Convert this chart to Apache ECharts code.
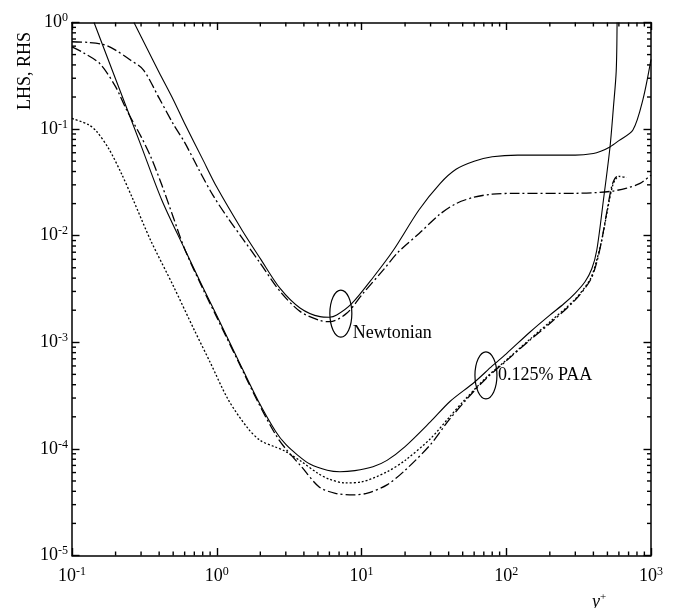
<!DOCTYPE html>
<html>
<head>
<meta charset="utf-8">
<script src="https://cdn.jsdelivr.net/npm/echarts@6/dist/echarts.min.js"></script>
<style>
html, body { margin: 0; padding: 0; background: #fff; }
#chart { width: 675px; height: 608px; }
</style>
</head>
<body>
<div id="chart"></div>
<script>
// axis ranges (log, base 10)
const xRange = [0.1, 1000]
const yRange = [1e-5, 1]

// minor tick values (2..9 in every decade)
const xMinorTicks = [0.2,0.3,0.4,0.5,0.6,0.7,0.8,0.9, 2,3,4,5,6,7,8,9, 20,30,40,50,60,70,80,90, 200,300,400,500,600,700,800,900]
const yMinorTicks = [2e-5,3e-5,4e-5,5e-5,6e-5,7e-5,8e-5,9e-5, 2e-4,3e-4,4e-4,5e-4,6e-4,7e-4,8e-4,9e-4,
  2e-3,3e-3,4e-3,5e-3,6e-3,7e-3,8e-3,9e-3, 0.02,0.03,0.04,0.05,0.06,0.07,0.08,0.09, 0.2,0.3,0.4,0.5,0.6,0.7,0.8,0.9]

// [y+, value]
const newtLhs = [[0.268,1.0],[0.33,0.57],[0.4,0.34],[0.5,0.19],[0.6,0.113],[0.8,0.052],[1.0,0.0286],[1.5,0.0112],[2.0,6.1e-3],[2.74,3.2e-3],[3.76,2.1e-3],[5.17,1.74e-3],[6.0,1.72e-3],[6.74,1.8e-3],[8.55,2.3e-3],[12.1,4.1e-3],[16.6,7.3e-3],[25,0.0175],[35,0.031],[45,0.042],[60,0.05],[80,0.055],[120,0.057],[200,0.057],[300,0.057],[400,0.059],[450,0.062],[520,0.068],[600,0.078],[750,0.098],[880,0.19],[1000,0.45]]
const newtRhs = [[0.1,0.66],[0.13,0.65],[0.166,0.62],[0.2,0.55],[0.25,0.45],[0.311,0.36],[0.4,0.195],[0.5,0.112],[0.6,0.075],[0.75,0.042],[0.94,0.024],[1.2,0.0145],[1.5,9.5e-3],[2.0,5.5e-3],[2.74,3.0e-3],[3.76,1.95e-3],[5.17,1.6e-3],[6.05,1.56e-3],[7.9,1.87e-3],[10.3,2.9e-3],[14.2,4.8e-3],[17.9,7.0e-3],[25,0.0105],[35,0.016],[45,0.02],[60,0.023],[80,0.0245],[120,0.025],[300,0.025],[520,0.026],[680,0.028],[840,0.031],[1000,0.037]]
const paaLhs = [[0.142,1.0],[0.2,0.295],[0.3,0.07],[0.417,0.0216],[0.6,7.5e-3],[0.8,3.3e-3],[1.0,1.78e-3],[1.4,6.9e-4],[1.94,2.8e-4],[2.56,1.45e-4],[3.0,1.1e-4],[3.6,8.8e-5],[4.4,7.2e-5],[5.8,6.3e-5],[7.1,6.1e-5],[9.0,6.25e-5],[12,6.8e-5],[15,7.8e-5],[20,1.05e-4],[30,1.8e-4],[41,2.8e-4],[60,4.2e-4],[80,6.0e-4],[100,7.8e-4],[146,1.25e-3],[200,1.8e-3],[250,2.3e-3],[300,2.9e-3],[350,3.7e-3],[390,4.9e-3],[422,7.3e-3],[470,0.022],[521,0.068],[550,0.16],[575,0.35],[583,1.0]]
const paaRhs = [[0.1,0.59],[0.12,0.52],[0.156,0.41],[0.2,0.25],[0.239,0.15],[0.3,0.085],[0.35,0.055],[0.417,0.03],[0.5,0.015],[0.6,7.5e-3],[0.8,3.2e-3],[1.0,1.72e-3],[1.4,6.7e-4],[1.94,2.7e-4],[2.56,1.35e-4],[3.0,1.0e-4],[3.85,6.8e-5],[5.1,4.4e-5],[6.6,3.83e-5],[8.8,3.7e-5],[11,3.85e-5],[15,4.6e-5],[20,6.3e-5],[30,1.1e-4],[40,1.85e-4],[53,2.9e-4],[73,4.6e-4],[100,6.7e-4],[146,1.05e-3],[200,1.5e-3],[300,2.5e-3],[380,3.8e-3],[420,5.5e-3],[457,9.1e-3],[500,0.018],[535,0.029],[560,0.034],[580,0.036]]
const paaDot = [[0.1,0.126],[0.13,0.11],[0.148,0.095],[0.18,0.065],[0.22,0.038],[0.265,0.0216],[0.35,9e-3],[0.5,3.4e-3],[0.7,1.3e-3],[0.9,6.5e-4],[1.2,2.9e-4],[1.64,1.56e-4],[2.0,1.2e-4],[2.5,1.05e-4],[2.93,9.6e-5],[3.85,7.6e-5],[5.0,5.9e-5],[6.0,5.2e-5],[7.7,4.8e-5],[10,4.9e-5],[15,6.1e-5],[20,7.8e-5],[30,1.25e-4],[40,1.95e-4],[50,2.75e-4],[73,4.7e-4],[100,6.8e-4],[146,1.07e-3],[200,1.55e-3],[300,2.55e-3],[380,3.9e-3],[420,5.8e-3],[460,9.5e-3],[510,0.02],[545,0.03],[570,0.034],[600,0.036],[680,0.035]]

// ellipse annotations: centre [y+, value] and their text
const notePoints = [[7.2, 1.86e-3], [72.4, 4.9e-4]]
const noteTexts = ['Newtonian', '0.125% PAA']
const noteTextDy = [20, 0]

const FONT = '"Liberation Serif", "DejaVu Serif", serif'
const MINOR_LEN = 4
const TICK_W = 1.4

function powLabel(v) {
  const e = Math.round(Math.log10(v))
  return '{b|10}{s|' + e + '}'
}
const labelRich = {
  b: { fontSize: 18, fontFamily: FONT, color: '#000' },
  s: { fontSize: 12, fontFamily: FONT, color: '#000', padding: [0, 0, 9, 0] }
}

function logAxis(range, pos, showLabel) {
  return {
    type: 'log', logBase: 10, min: range[0], max: range[1], position: pos,
    axisLine: { show: true, onZero: false, lineStyle: { color: '#000', width: 1.5 } },
    axisTick: { show: true, inside: true, length: 7.5, lineStyle: { color: '#000', width: TICK_W } },
    splitLine: { show: false },
    axisLabel: { show: showLabel, formatter: powLabel, rich: labelRich, margin: pos === 'bottom' ? 10 : 4 }
  }
}

function lineSeries(name, data, type, width) {
  return {
    name: name, type: 'line', data: data, xAxisIndex: 0, yAxisIndex: 0,
    showSymbol: false, symbol: 'none', smooth: 0.3, silent: true,
    lineStyle: { color: '#000', width: width, type: type }
  }
}

// minor ticks on all four sides, placed through the axes' own scales
function tickSeries(values, isX) {
  return {
    type: 'custom', xAxisIndex: 0, yAxisIndex: 0, silent: true, clip: false,
    data: values.map(v => isX ? [v, yRange[0]] : [xRange[0], v]),
    renderItem: function (params, api) {
      const v = api.value(isX ? 0 : 1)
      const a = api.coord(isX ? [v, yRange[0]] : [xRange[0], v])
      const b = api.coord(isX ? [v, yRange[1]] : [xRange[1], v])
      if (isX) {
        return { type: 'group', children: [
          { type: 'line', shape: { x1: a[0], y1: a[1], x2: a[0], y2: a[1] - MINOR_LEN }, style: { stroke: '#000', lineWidth: TICK_W } },
          { type: 'line', shape: { x1: b[0], y1: b[1], x2: b[0], y2: b[1] + MINOR_LEN }, style: { stroke: '#000', lineWidth: TICK_W } }
        ] }
      }
      return { type: 'group', children: [
        { type: 'line', shape: { x1: a[0], y1: a[1], x2: a[0] + MINOR_LEN, y2: a[1] }, style: { stroke: '#000', lineWidth: TICK_W } },
        { type: 'line', shape: { x1: b[0], y1: b[1], x2: b[0] - MINOR_LEN, y2: b[1] }, style: { stroke: '#000', lineWidth: TICK_W } }
      ] }
    }
  }
}

let chart = echarts.init(document.getElementById('chart'), null, { renderer: 'canvas' })
chart.setOption({
  animation: false,
  backgroundColor: '#fff',
  grid: { left: 72, right: 24, top: 22.5, bottom: 52.5 },
  xAxis: [logAxis(xRange, 'bottom', true), logAxis(xRange, 'top', false)],
  yAxis: [logAxis(yRange, 'left', true), logAxis(yRange, 'right', false)],
  graphic: [
    { type: 'text', x: 25, y: 71, rotation: Math.PI / 2,
      style: { text: 'LHS, RHS', fontSize: 18, fontFamily: FONT, fill: '#000', align: 'center', verticalAlign: 'middle' } },
    { type: 'text', x: 592, y: 592,
      style: { text: '{i|y}{s|+}', rich: { i: { fontSize: 18, fontFamily: FONT, fontStyle: 'italic' }, s: { fontSize: 11, fontFamily: FONT, padding: [0, 0, 9, 0] } }, fill: '#000' } }
  ],
  series: [
    lineSeries('Newtonian LHS', newtLhs, 'solid', 1.1),
    lineSeries('Newtonian RHS', newtRhs, [10, 3, 2, 3], 1.3),
    lineSeries('PAA LHS', paaLhs, 'solid', 1.1),
    lineSeries('PAA RHS', paaRhs, [10, 3, 2, 3], 1.3),
    lineSeries('PAA dotted', paaDot, [2, 2], 1.3),
    tickSeries(xMinorTicks, true),
    tickSeries(yMinorTicks, false),
    {
      type: 'custom', xAxisIndex: 0, yAxisIndex: 0, silent: true,
      data: notePoints,
      renderItem: function (params, api) {
        const p = api.coord([api.value(0), api.value(1)])
        const i = params.dataIndex
        return {
          type: 'group',
          children: [
            { type: 'ellipse', shape: { cx: p[0], cy: p[1], rx: 11, ry: 23.5 },
              style: { fill: 'none', stroke: '#000', lineWidth: 1.2 } },
            { type: 'text', x: p[0] + 12, y: p[1] + noteTextDy[i],
              style: { text: noteTexts[i], fontSize: 18, fontFamily: FONT, fill: '#000', verticalAlign: 'middle' } }
          ]
        }
      }
    }
  ]
})
</script>
</body>
</html>
